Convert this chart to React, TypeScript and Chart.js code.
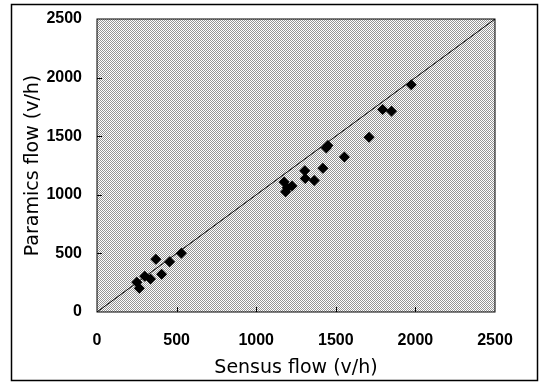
import { useEffect, useRef } from "react";
import { Chart, registerables } from "chart.js";

Chart.register(...registerables);

// ---- data ----
const sensusFlow = [250, 266, 300, 336, 370, 406, 456, 530, 1175, 1185, 1195, 1225, 1305, 1308, 1365, 1419, 1440, 1450, 1554, 1709, 1794, 1850, 1974];
const paramicsFlow = [253, 202, 304, 281, 451, 323, 428, 502, 1110, 1025, 1060, 1075, 1205, 1140, 1123, 1226, 1400, 1420, 1322, 1492, 1728, 1713, 1940];
const diagonalX = [0, 2500];
const diagonalY = [0, 2500];
const axisMin = 0;
const axisMax = 2500;
const tickStep = 500;
const xTitle = "Sensus flow (v/h)";
const yTitle = "Paramics flow (v/h)";

const W = 548;
const H = 384;

function makeStipple(ctx: CanvasRenderingContext2D) {
  const c = document.createElement("canvas");
  c.width = 2;
  c.height = 2;
  const g = c.getContext("2d")!;
  g.fillStyle = "#ffffff";
  g.fillRect(0, 0, 2, 2);
  g.fillStyle = "#959595";
  g.fillRect(0, 0, 1, 1);
  g.fillRect(1, 1, 1, 1);
  return ctx.createPattern(c, "repeat");
}

const framePlugin = {
  id: "frame",
  beforeDraw(chart: any) {
    const { ctx, chartArea } = chart;
    ctx.save();
    ctx.fillStyle = "#ffffff";
    ctx.fillRect(0, 0, chart.width, chart.height);
    ctx.strokeStyle = "#000";
    ctx.lineWidth = 1.5;
    ctx.strokeRect(11.5, 4.5, 526, 376);
    const pat = makeStipple(ctx);
    ctx.fillStyle = pat || "#c8c8c8";
    ctx.fillRect(chartArea.left, chartArea.top, chartArea.right - chartArea.left, chartArea.bottom - chartArea.top);
    ctx.restore();
  },
  afterDraw(chart: any) {
    const { ctx, chartArea, scales } = chart;
    ctx.save();
    ctx.strokeStyle = "#000";
    ctx.lineWidth = 1;
    ctx.strokeRect(chartArea.left, chartArea.top, chartArea.right - chartArea.left, chartArea.bottom - chartArea.top);
    ctx.beginPath();
    for (let v = axisMin + tickStep; v < axisMax; v += tickStep) {
      const px = Math.round(scales.x.getPixelForValue(v)) + 0.5;
      ctx.moveTo(px, chartArea.bottom);
      ctx.lineTo(px, chartArea.bottom - 5);
      const py = Math.round(scales.y.getPixelForValue(v)) + 0.5;
      ctx.moveTo(chartArea.left, py);
      ctx.lineTo(chartArea.left + 5, py);
    }
    ctx.stroke();
    ctx.restore();
  },
};

export default function App() {
  const ref = useRef<HTMLCanvasElement | null>(null);
  useEffect(() => {
    if (!ref.current) return;
    const tickFont = { family: "'Liberation Sans', Arial, sans-serif", size: 16, weight: "bold" as const };
    const titleFont = { family: "'DejaVu Sans', sans-serif", size: 19 };
    const chart = new Chart(ref.current, {
      type: "scatter",
      data: {
        datasets: [
          {
            data: diagonalX.map((x, i) => ({ x, y: diagonalY[i] })),
            showLine: true,
            borderColor: "#000",
            borderWidth: 1,
            pointRadius: 0,
            fill: false,
          },
          {
            data: sensusFlow.map((x, i) => ({ x, y: paramicsFlow[i] })),
            pointStyle: "rectRot",
            pointRadius: 5.5,
            backgroundColor: "#000",
            borderColor: "#000",
            borderWidth: 0,
          },
        ],
      },
      options: {
        responsive: false,
        animation: false,
        layout: { padding: { left: 0, top: 19, right: 53, bottom: 0 } },
        plugins: { legend: { display: false }, tooltip: { enabled: false } },
        scales: {
          x: {
            type: "linear",
            min: axisMin,
            max: axisMax,
            grid: { display: false, drawTicks: false },
            border: { display: false },
            ticks: { stepSize: tickStep, color: "#000", font: tickFont, padding: 19, maxRotation: 0, callback: (v: any) => String(v) },
            title: { display: true, text: xTitle, color: "#000", font: titleFont, padding: { top: 0, bottom: 5 } },
            afterFit: (s: any) => {
              s.height = 72;
              s.paddingLeft = 0;
              s.paddingRight = 0;
            },
          },
          y: {
            type: "linear",
            min: axisMin,
            max: axisMax,
            grid: { display: false, drawTicks: false },
            border: { display: false },
            ticks: { stepSize: tickStep, color: "#000", font: tickFont, padding: 15, callback: (v: any) => String(v) },
            title: { display: true, text: yTitle, color: "#000", font: titleFont, padding: { top: 22, bottom: 0 } },
            afterFit: (s: any) => {
              s.width = 97;
              s.paddingTop = 0;
              s.paddingBottom = 0;
            },
          },
        },
      },
      plugins: [framePlugin],
    });
    return () => chart.destroy();
  }, []);
  return (
    <div style={{ position: "fixed", left: 0, top: 0, width: W, height: H, background: "#fff" }}>
      <canvas ref={ref} width={W} height={H} style={{ width: W, height: H, display: "block" }} />
    </div>
  );
}
